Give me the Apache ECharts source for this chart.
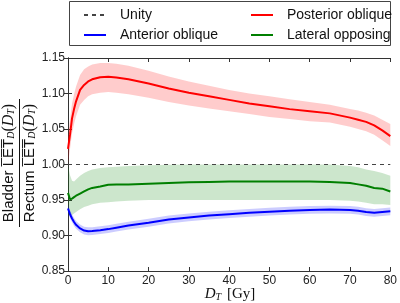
<!DOCTYPE html>
<html>
<head>
<meta charset="utf-8">
<script src="https://cdn.jsdelivr.net/npm/echarts@6/dist/echarts.min.js"></script>
<style>
  html, body { margin: 0; padding: 0; background: #fff; }
  #main { width: 400px; height: 303px; }
</style>
</head>
<body>
<div id="main"></div>
<script>
// dose axis (Gy)
var doses = [0, 0.5, 1, 1.5, 2, 3, 4, 5, 6, 8, 10, 12, 15, 20, 25, 30, 35, 40, 45, 50, 55, 60, 65, 70, 72, 74, 76, 78, 80];

var posteriorMean = [1.022, 1.042, 1.065, 1.078, 1.089, 1.105, 1.112, 1.117, 1.120, 1.123, 1.1235, 1.1225, 1.120, 1.114, 1.107, 1.101, 1.096, 1.091, 1.086, 1.082, 1.078, 1.075, 1.072, 1.066, 1.063, 1.060, 1.055, 1.048, 1.040];
var posteriorUpper = [1.042, 1.063, 1.086, 1.099, 1.110, 1.126, 1.134, 1.138, 1.141, 1.143, 1.143, 1.142, 1.139, 1.132, 1.124, 1.117, 1.111, 1.105, 1.100, 1.096, 1.092, 1.088, 1.084, 1.078, 1.076, 1.073, 1.069, 1.063, 1.057];
var posteriorLower = [1.001, 1.022, 1.044, 1.057, 1.068, 1.084, 1.091, 1.096, 1.099, 1.101, 1.102, 1.101, 1.099, 1.094, 1.088, 1.083, 1.079, 1.075, 1.071, 1.067, 1.064, 1.061, 1.059, 1.053, 1.050, 1.047, 1.042, 1.034, 1.026];

var lateralMean = [0.960, 0.951, 0.952, 0.954, 0.956, 0.959, 0.962, 0.965, 0.967, 0.969, 0.9715, 0.972, 0.972, 0.973, 0.974, 0.975, 0.9755, 0.976, 0.976, 0.976, 0.976, 0.976, 0.9755, 0.974, 0.972, 0.970, 0.967, 0.966, 0.962];
var lateralUpper = [0.999, 0.985, 0.977, 0.976, 0.979, 0.984, 0.988, 0.991, 0.993, 0.995, 0.996, 0.997, 0.998, 0.999, 0.9995, 1.0, 1.0, 1.0, 1.0, 1.0, 1.0, 1.0, 1.0, 0.998, 0.996, 0.993, 0.991, 0.988, 0.984];
var lateralLower = [0.930, 0.928, 0.929, 0.931, 0.933, 0.937, 0.940, 0.942, 0.944, 0.946, 0.947, 0.948, 0.949, 0.950, 0.950, 0.950, 0.950, 0.950, 0.950, 0.950, 0.950, 0.950, 0.950, 0.949, 0.948, 0.946, 0.944, 0.944, 0.943];

var anteriorMean = [0.938, 0.930, 0.924, 0.919, 0.915, 0.910, 0.907, 0.906, 0.9062, 0.9075, 0.909, 0.911, 0.914, 0.918, 0.9225, 0.9255, 0.928, 0.930, 0.932, 0.9335, 0.935, 0.936, 0.9365, 0.936, 0.935, 0.933, 0.932, 0.933, 0.934];
var anteriorUpper = [0.9435, 0.9355, 0.9295, 0.9245, 0.9205, 0.9155, 0.9125, 0.9115, 0.9117, 0.913, 0.9145, 0.9165, 0.9195, 0.9235, 0.928, 0.931, 0.9335, 0.9355, 0.9375, 0.939, 0.9405, 0.9415, 0.942, 0.9415, 0.9405, 0.9385, 0.9375, 0.9385, 0.9395];
var anteriorLower = [0.9325, 0.9245, 0.9185, 0.9135, 0.9095, 0.9045, 0.9015, 0.9005, 0.9007, 0.902, 0.9035, 0.9055, 0.9085, 0.9125, 0.917, 0.920, 0.9225, 0.9245, 0.9265, 0.928, 0.9295, 0.9305, 0.931, 0.9305, 0.9295, 0.9275, 0.9265, 0.9275, 0.9285];

var unityX = [0, 80];
var unityY = [1, 1];

function pairs(xs, ys) {
  return xs.map(function (x, i) { return [x, ys[i]]; });
}

// shaded band between lower and upper, drawn as one polygon through the axes
function band(lower, upper, color) {
  return {
    type: 'custom',
    silent: true,
    z: 1,
    data: [[doses[0], lower[0]]],
    renderItem: function (params, api) {
      var pts = [];
      for (var i = 0; i < doses.length; i++) pts.push(api.coord([doses[i], upper[i]]));
      for (var j = doses.length - 1; j >= 0; j--) pts.push(api.coord([doses[j], lower[j]]));
      return { type: 'polygon', shape: { points: pts }, style: { fill: color } };
    }
  };
}

function meanLine(name, ys, color) {
  return {
    name: name,
    type: 'line',
    symbol: 'none',
    z: 5,
    lineStyle: { color: color, width: 2 },
    itemStyle: { color: color },
    data: pairs(doses, ys)
  };
}

var chart = echarts.init(document.getElementById('main'), null, { renderer: 'canvas' });

var font = 'Liberation Sans, Arial, sans-serif';
var serif = 'Liberation Serif, DejaVu Serif, serif';
var tickFont = { color: '#222', fontSize: 12, fontFamily: font };

var axisBase = {
  axisLine: { show: true, lineStyle: { color: '#333', width: 1 } },
  axisTick: { show: true, inside: true, length: 4, lineStyle: { color: '#333' } },
  splitLine: { show: false }
};

var legendBase = {
  orient: 'vertical',
  top: 3,
  itemWidth: 22, itemHeight: 12, itemGap: 6,
  itemStyle: { opacity: 0 },
  formatter: function (n) { return '{g|}' + n; },
  textStyle: {
    fontSize: 14, fontFamily: font, color: '#111',
    rich: { g: { width: 9 } }
  }
};

var fracRich = {
  i: { fontFamily: serif, fontStyle: 'italic', fontSize: 16 },
  p: { fontFamily: serif, fontSize: 16 },
  s: { fontFamily: serif, fontStyle: 'italic', fontSize: 10, padding: [6, 0, 0, 0] }
};

var option = {
  animation: false,
  backgroundColor: '#fff',
  grid: { left: 68, right: 7, top: 58, bottom: 32 },
  xAxis: [
    Object.assign({
      type: 'value', min: 0, max: 80, interval: 10, position: 'bottom',
      axisLabel: Object.assign({ margin: 4 }, tickFont)
    }, axisBase),
    Object.assign({
      type: 'value', min: 0, max: 80, interval: 10, position: 'top',
      axisLabel: { show: false }
    }, axisBase)
  ],
  yAxis: [
    Object.assign({
      type: 'value', min: 0.85, max: 1.15, interval: 0.05, position: 'left',
      axisLabel: Object.assign({ margin: 3, formatter: function (v) { return v.toFixed(2); } }, tickFont)
    }, axisBase),
    Object.assign({
      type: 'value', min: 0.85, max: 1.15, interval: 0.05, position: 'right',
      axisLabel: { show: false }
    }, axisBase)
  ],
  legend: [
    Object.assign({ left: 78, data: ['Unity', 'Anterior oblique'] }, legendBase),
    Object.assign({ left: 245, data: ['Posterior oblique', 'Lateral opposing'] }, legendBase)
  ],
  graphic: [{
    type: 'rect', z: -1,
    shape: { x: 69.5, y: 1.5, width: 321, height: 44 },
    style: { fill: '#fff', stroke: '#444', lineWidth: 1 }
  }, {
    type: 'text',
    x: 230, y: 294,
    style: {
      text: '{i|D}{s|T} [Gy]',
      font: '15px ' + serif,
      fill: '#111',
      align: 'center', verticalAlign: 'middle',
      rich: {
        i: { fontFamily: serif, fontStyle: 'italic', fontSize: 15 },
        s: { fontFamily: serif, fontStyle: 'italic', fontSize: 10, padding: [6, 2, 0, 0] }
      }
    }
  }, {
    type: 'group',
    x: 19.5, y: 163,
    rotation: Math.PI / 2,
    children: [{
      type: 'text',
      x: 0, y: -11,
      style: {
        text: 'Bladder L\u0305E\u0305T\u0305{s|D}{p|(}{i|D}{s|T}{p|)}',
        font: '15px ' + font,
        fill: '#111',
        align: 'center', verticalAlign: 'middle',
        rich: fracRich
      }
    }, {
      type: 'line',
      shape: { x1: -64, y1: 0, x2: 64, y2: 0 },
      style: { stroke: '#111', lineWidth: 1 }
    }, {
      type: 'text',
      x: 0, y: 10,
      style: {
        text: 'Rectum L\u0305E\u0305T\u0305{s|D}{p|(}{i|D}{s|T}{p|)}',
        font: '15px ' + font,
        fill: '#111',
        align: 'center', verticalAlign: 'middle',
        rich: fracRich
      }
    }]
  }],
  series: [
    band(posteriorLower, posteriorUpper, 'rgba(255,0,0,0.2)'),
    band(lateralLower, lateralUpper, 'rgba(0,128,0,0.2)'),
    band(anteriorLower, anteriorUpper, 'rgba(0,0,255,0.2)'),
    {
      name: 'Unity',
      type: 'line',
      symbol: 'none',
      z: 4,
      lineStyle: { color: '#444', width: 1, type: [4, 4] },
      itemStyle: { color: '#888' },
      data: pairs(unityX, unityY)
    },
    meanLine('Posterior oblique', posteriorMean, '#ff0000'),
    meanLine('Lateral opposing', lateralMean, '#007f00'),
    meanLine('Anterior oblique', anteriorMean, '#0000ff')
  ]
};

chart.setOption(option);
</script>
</body>
</html>
